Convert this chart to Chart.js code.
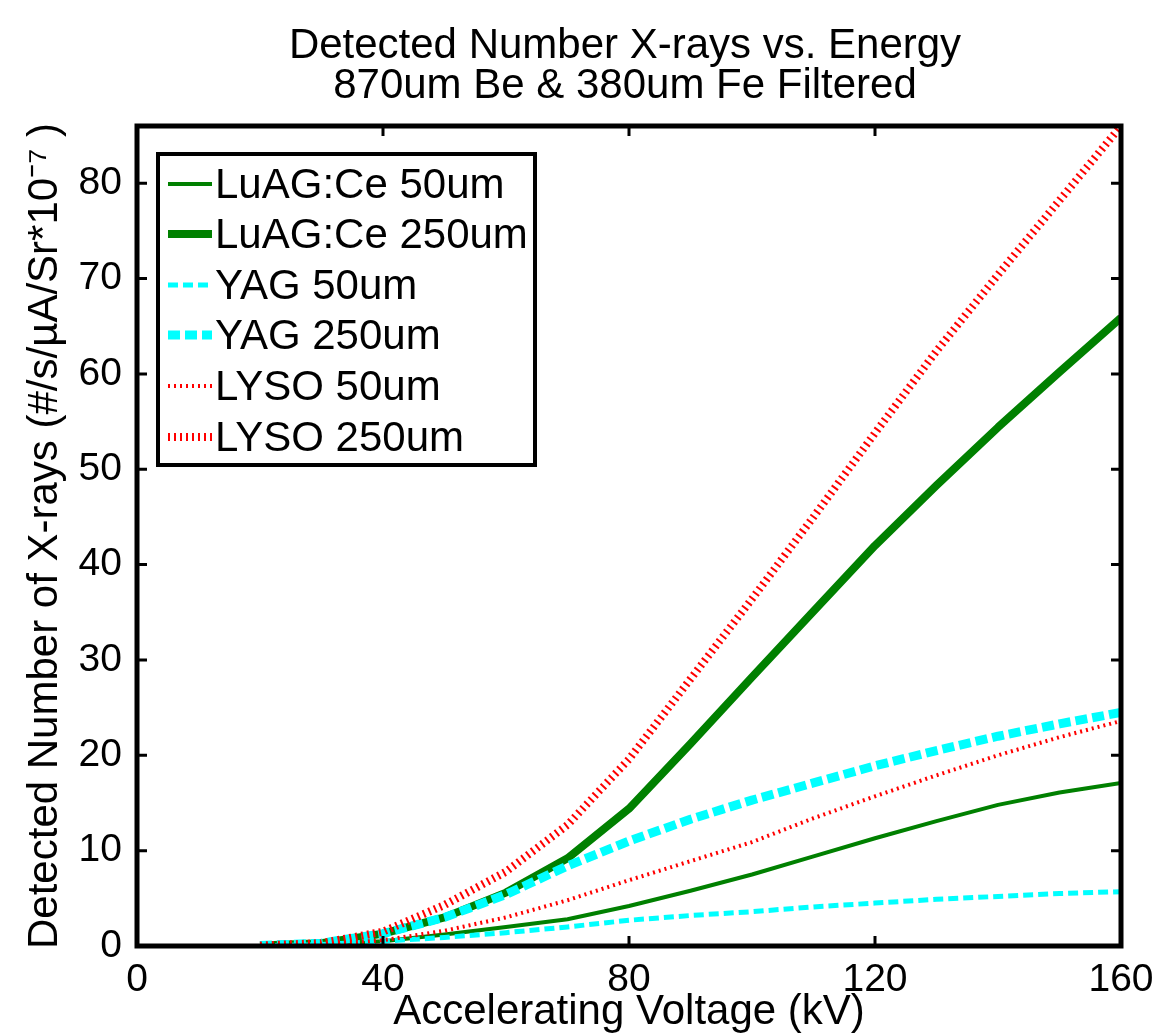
<!DOCTYPE html>
<html>
<head>
<meta charset="utf-8">
<script src="https://cdn.jsdelivr.net/npm/chart.js@4.4.1/dist/chart.umd.min.js"></script>
<style>
  html, body { margin: 0; padding: 0; background: #fff; }
  #wrap { width: 1159px; height: 1035px; }
</style>
</head>
<body>
<div id="wrap"><canvas id="c" width="1159" height="1035"></canvas></div>
<script>
// ---- data ----
const kv = [20, 30, 40, 50, 60, 70, 80, 90, 100, 110, 120, 130, 140, 150, 160];
const luag50  = [0.02, 0.15, 0.5, 1.2, 2.0, 2.8, 4.2, 5.8, 7.5, 9.4, 11.3, 13.1, 14.8, 16.1, 17.1];
const luag250 = [0.05, 0.3, 1.3, 3.0, 5.6, 9.2, 14.4, 21.2, 28.2, 35.1, 42.0, 48.3, 54.4, 60.2, 65.9];
const yag50   = [0.02, 0.15, 0.5, 0.9, 1.4, 2.0, 2.7, 3.2, 3.6, 4.1, 4.5, 4.9, 5.2, 5.5, 5.7];
const yag250  = [0.05, 0.3, 1.3, 3.0, 5.4, 8.4, 11.0, 13.3, 15.3, 17.1, 18.9, 20.5, 22.0, 23.3, 24.5];
const lyso50  = [0.02, 0.15, 0.6, 1.6, 3.0, 4.8, 6.9, 8.9, 10.9, 13.4, 15.7, 17.9, 20.0, 21.9, 23.6];
const lyso250 = [0.05, 0.3, 1.5, 4.3, 7.8, 12.7, 19.6, 28.0, 36.4, 45.0, 53.8, 62.4, 70.4, 78.2, 86.0];
const seriesNames = ['LuAG:Ce 50um', 'LuAG:Ce 250um', 'YAG 50um', 'YAG 250um', 'LYSO 50um', 'LYSO 250um'];
const xTicks = [0, 40, 80, 120, 160];
const yTicks = [0, 10, 20, 30, 40, 50, 60, 70, 80];
const titleLines = ['Detected Number X-rays vs. Energy', '870um Be & 380um Fe Filtered'];
const xTitle = 'Accelerating Voltage (kV)';
const yTitle = 'Detected Number of X-rays (#/s/\u00B5A/Sr*10\u207B\u2077 )';

const FONT = "'Liberation Sans', Arial, Helvetica, sans-serif";
const GREEN = '#008000', CYAN = '#00ffff', RED = '#ff0000';

const styles = [
  { color: GREEN, width: 4, dash: [] },
  { color: GREEN, width: 8, dash: [] },
  { color: CYAN,  width: 5, dash: [10, 5] },
  { color: CYAN,  width: 9, dash: [12, 5] },
  { color: RED,   width: 4, dash: [2, 4] },
  { color: RED,   width: 8, dash: [2, 4] }
];
const seriesData = [luag50, luag250, yag50, yag250, lyso50, lyso250];

const datasets = seriesData.map((vals, i) => ({
  label: seriesNames[i],
  data: kv.map((x, j) => ({ x: x, y: vals[j] })),
  borderColor: styles[i].color,
  backgroundColor: styles[i].color,
  borderWidth: styles[i].width,
  borderDash: styles[i].dash,
  borderCapStyle: 'butt',
  borderJoinStyle: 'round',
  pointRadius: 0,
  tension: 0,
  fill: false,
  order: seriesData.length - 1 - i
}));

// box, inward ticks, title and legend (MATLAB style)
const decor = {
  id: 'decor',
  afterDraw(chart) {
    const ctx = chart.ctx;
    const a = chart.chartArea;
    const xs = chart.scales.x, ys = chart.scales.y;
    ctx.save();
    // ticks
    ctx.strokeStyle = '#000';
    ctx.lineWidth = 3;
    ctx.setLineDash([]);
    const TL = 10;
    xTicks.forEach(v => {
      const px = xs.getPixelForValue(v);
      ctx.beginPath();
      ctx.moveTo(px, a.bottom); ctx.lineTo(px, a.bottom - TL);
      ctx.moveTo(px, a.top); ctx.lineTo(px, a.top + TL);
      ctx.stroke();
    });
    yTicks.forEach(v => {
      const py = ys.getPixelForValue(v);
      ctx.beginPath();
      ctx.moveTo(a.left, py); ctx.lineTo(a.left + TL, py);
      ctx.moveTo(a.right, py); ctx.lineTo(a.right - TL, py);
      ctx.stroke();
    });
    // box
    ctx.lineWidth = 5;
    ctx.strokeRect(a.left, a.top, a.right - a.left, a.bottom - a.top);

    // title
    ctx.fillStyle = '#000';
    ctx.textAlign = 'center';
    ctx.textBaseline = 'alphabetic';
    ctx.font = '42px ' + FONT;
    const cx = (a.left + a.right) / 2 - 4;
    ctx.fillText(titleLines[0], cx, 58);
    ctx.fillText(titleLines[1], cx, 98);

    // legend
    const L = { x: 158, y: 154, w: 377, h: 311 };
    ctx.fillStyle = '#fff';
    ctx.fillRect(L.x, L.y, L.w, L.h);
    ctx.lineWidth = 4;
    ctx.strokeStyle = '#000';
    ctx.strokeRect(L.x, L.y, L.w, L.h);
    const rows = [184, 234, 285, 335, 386, 437];
    chart.data.datasets.forEach((ds, i) => {
      const y = rows[i];
      ctx.beginPath();
      ctx.strokeStyle = ds.borderColor;
      ctx.lineWidth = ds.borderWidth;
      ctx.setLineDash(ds.borderDash || []);
      ctx.lineCap = 'butt';
      ctx.moveTo(168, y); ctx.lineTo(212, y);
      ctx.stroke();
      ctx.setLineDash([]);
      ctx.fillStyle = '#000';
      ctx.textAlign = 'left';
      ctx.textBaseline = 'middle';
      ctx.font = '42px ' + FONT;
      ctx.fillText(ds.label, 215, y + 2);
    });
    ctx.restore();
  }
};

new Chart(document.getElementById('c'), {
  type: 'line',
  data: { datasets: datasets },
  options: {
    responsive: false,
    animation: false,
    devicePixelRatio: 1,
    layout: { padding: { top: 126, right: 38, left: 0, bottom: 0 } },
    plugins: {
      legend: { display: false },
      title: { display: false },
      tooltip: { enabled: false }
    },
    scales: {
      x: {
        type: 'linear',
        min: 0, max: 160,
        afterFit(s) { s.height = 89; },
        afterBuildTicks(s) { s.ticks = xTicks.map(v => ({ value: v })); },
        ticks: { color: '#000', font: { family: FONT, size: 39 }, padding: 3, maxRotation: 0, autoSkip: false },
        grid: { display: false },
        border: { display: false },
        title: { display: true, text: xTitle, color: '#000', font: { family: FONT, size: 42 }, padding: { top: 0, bottom: -3 } }
      },
      y: {
        type: 'linear',
        min: 0, max: 86,
        afterFit(s) { s.width = 137; },
        afterBuildTicks(s) { s.ticks = yTicks.map(v => ({ value: v })); },
        ticks: { color: '#000', font: { family: FONT, size: 39 }, padding: 7, autoSkip: false },
        grid: { display: false },
        border: { display: false },
        title: { display: true, text: yTitle, color: '#000', font: { family: FONT, size: 42 }, padding: { top: 20, bottom: 0 } }
      }
    }
  },
  plugins: [decor]
});
</script>
</body>
</html>
